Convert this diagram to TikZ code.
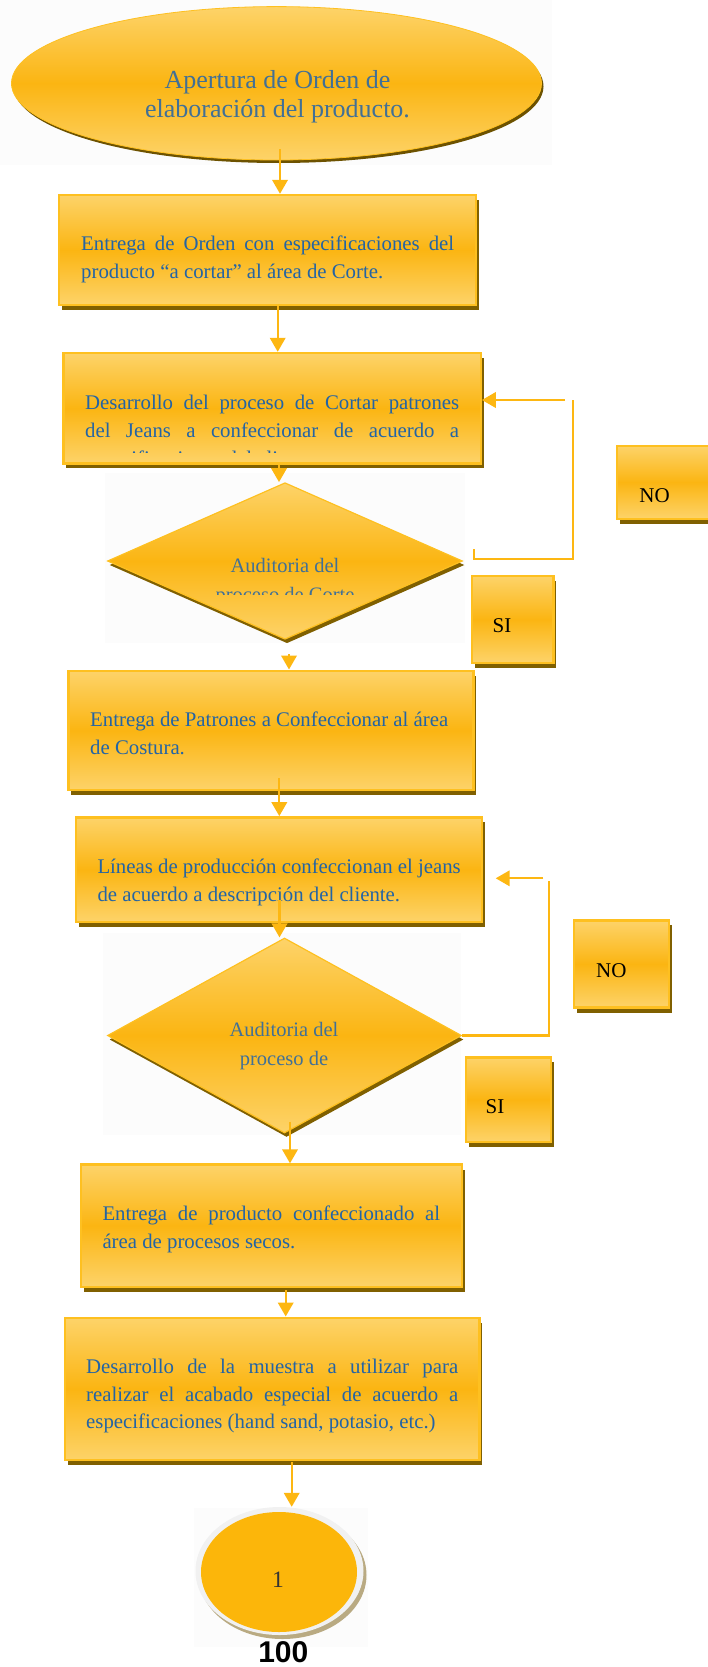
\documentclass[tikz,border=0pt]{standalone}
\usepackage{fontspec}
\setmainfont{Liberation Serif}
\newfontfamily\pagefont{Liberation Sans}
\usetikzlibrary{shapes.geometric,arrows.meta,shadows}

\definecolor{goldtop}{RGB}{253,211,105}
\definecolor{goldmid}{RGB}{251,181,18}
\definecolor{goldedge}{RGB}{254,192,32}
\definecolor{goldshadow}{RGB}{128,96,0}
\definecolor{flowline}{RGB}{253,183,18}
\definecolor{bodyblue}{RGB}{35,100,165}
\definecolor{softblue}{RGB}{65,112,150}
\definecolor{faintbg}{RGB}{252,252,252}
\definecolor{ringgray}{RGB}{241,241,241}
\definecolor{ringshadow}{RGB}{185,170,130}
\definecolor{endgold}{RGB}{252,182,10}

\tikzset{
  stepbox/.style={rectangle, draw=goldedge, line width=2.4pt,
    top color=goldtop, bottom color=goldtop, middle color=goldmid,
    inner sep=0pt,
    drop shadow={shadow xshift=3pt, shadow yshift=-5pt, fill=goldshadow, opacity=1}},
  decision/.style={diamond, draw=goldedge, line width=1.2pt,
    top color=goldtop, bottom color=goldtop, middle color=goldmid,
    inner sep=0pt,
    drop shadow={shadow xshift=2pt, shadow yshift=-4pt, fill=goldshadow, opacity=1}},
  startshape/.style={ellipse, draw=goldedge, line width=0.8pt,
    top color=goldtop, bottom color=goldtop, middle color=goldmid,
    inner sep=0pt,
    drop shadow={shadow xshift=2pt, shadow yshift=-3pt, fill=goldshadow!85!black, opacity=1}},
  bodytext/.style={font=\fontsize{20.8}{27.8}\selectfont, text=bodyblue,
    align=left, inner sep=0pt, anchor=north west},
  headtext/.style={font=\fontsize{26}{29.4}\selectfont, text=softblue,
    align=center, inner sep=0pt, anchor=north},
  dtext/.style={font=\fontsize{20.5}{28.5}\selectfont, text=softblue,
    align=center, inner sep=0pt, anchor=north},
  flagtext/.style={font=\fontsize{21}{24}\selectfont, text=black,
    inner sep=0pt, anchor=base},
  arr/.style={draw=flowline, line width=2.2pt,
    -{Triangle[width=15.5pt,length=14pt]}},
  loopline/.style={draw=flowline, line width=2.2pt}
}

\begin{document}
\begin{tikzpicture}[x=1pt,y=-1pt]
\useasboundingbox (0,0) rectangle (708,1667);

% pale picture frames behind the rounded and diamond shapes
\fill[faintbg] (0,0) rectangle (552,165);
\fill[faintbg] (105,473) rectangle (465,643);
\fill[faintbg] (103,933) rectangle (461,1135);
\fill[faintbg] (194,1508) rectangle (368,1647);

% start
\node[startshape, minimum width=530pt, minimum height=153.4pt] (start) at (276.5,83.3) {};
\node[headtext] (starttxt) at (277.5,67.7) {\strut Apertura de Orden de\\elaboración del producto.};

% process steps
\node[stepbox, minimum width=416.7pt, minimum height=110pt] (box1) at (267.35,250) {};
\node[bodytext] (t1) at (81,230.54)
  {\strut\makebox[373pt][s]{Entrega de Orden con especificaciones del}\\producto “a cortar” al área de Corte.};

\node[stepbox, minimum width=417.4pt, minimum height=110.3pt] (box2) at (272,408.15) {};
\begin{scope}
  \clip (60,350) rectangle (485,452);
  \node[bodytext] (t2) at (85,389.84)
    {\strut\makebox[374pt][s]{Desarrollo del proceso de Cortar patrones}\\\makebox[374pt][s]{del Jeans a confeccionar de acuerdo a}\\especificaciones del cliente.};
\end{scope}

\node[decision, minimum width=355pt, minimum height=156.6pt] (dia1) at (285,561) {};
\begin{scope}
  \clip (100,470) rectangle (470,594);
  \node[dtext] (d1t) at (285,552.35) {\strut Auditoria del\\proceso de Corte};
\end{scope}

\node[stepbox, minimum width=98pt, minimum height=73pt] (no1) at (666,482.2) {};
\node[flagtext] (no1t) at (654.5,502) {NO};
\node[stepbox, minimum width=81.3pt, minimum height=86.7pt] (si1) at (512.65,619.35) {};
\node[flagtext] (si1t) at (502,632.4) {SI};

\node[stepbox, minimum width=405pt, minimum height=119.3pt] (box3) at (270.8,730.35) {};
\node[bodytext] (t3) at (90,707.24)
  {\strut Entrega de Patrones a Confeccionar al área\\de Costura.};

\node[stepbox, minimum width=405.7pt, minimum height=104.4pt] (box4) at (278.85,869.5) {};
\node[bodytext] (t4) at (97.3,853.84)
  {\strut Líneas de producción confeccionan el jeans\\de acuerdo a descripción del cliente.};

\node[decision, minimum width=354pt, minimum height=195pt] (dia2) at (284.5,1035.5) {};
\node[dtext] (d2t) at (284,1016.75) {\strut Auditoria del\\proceso de};

\node[stepbox, minimum width=94.7pt, minimum height=87.1pt] (no2) at (621.35,963.95) {};
\node[flagtext] (no2t) at (611.3,977) {NO};
\node[stepbox, minimum width=85.3pt, minimum height=84.4pt] (si2) at (508.35,1099.5) {};
\node[flagtext] (si2t) at (495,1113.3) {SI};

\node[stepbox, minimum width=381.3pt, minimum height=122.2pt] (box5) at (271.35,1225.6) {};
\node[bodytext] (t5) at (102.3,1200.54)
  {\strut\makebox[337.7pt][s]{Entrega de producto confeccionado al}\\área de procesos secos.};

\node[stepbox, minimum width=414.3pt, minimum height=142.3pt] (box6) at (272.15,1388.85) {};
\node[bodytext] (t6) at (86,1353.54)
  {\strut\makebox[372pt][s]{Desarrollo de la muestra a utilizar para}\\\makebox[372pt][s]{realizar el acabado especial de acuerdo a}\\especificaciones (hand sand, potasio, etc.)};

% off-page connector
\node[ellipse, fill=ringgray, inner sep=0pt, minimum width=168pt, minimum height=128pt,
  drop shadow={shadow xshift=3pt, shadow yshift=-4pt, fill=ringshadow, opacity=1}] (endring) at (279.5,1571) {};
\node[ellipse, fill=endgold, inner sep=0pt, minimum width=156pt, minimum height=120pt] (endc) at (279,1572) {};
\node[font=\fontsize{23.5}{26}\selectfont, text=black!80, inner sep=0pt, anchor=base] (endt) at (278,1587) {1};

\node[font={\pagefont\fontsize{30}{32}\selectfont\bfseries}, inner sep=0pt, anchor=base] (pageno) at (283.3,1662) {100};

% main flow
\coordinate (a1) at (280,149.3);
\draw[arr] (a1) -- (a1 |- box1.north);
\coordinate (a2) at (277.7,0);
\draw[arr] (a2 |- box1.south) -- (a2 |- box2.north);
\coordinate (a3) at (279,0);
\draw[arr] (a3 |- box2.south) -- (a3 |- dia1.north);
\coordinate (a4) at (289,654);
\draw[arr] (a4) -- (a4 |- box3.north);
\coordinate (a5) at (279.3,778.3);
\draw[arr] (a5) -- (a5 |- box4.north);
\coordinate (a6) at (279.5,900);
\draw[arr] (a6) -- (a6 |- dia2.north);
\coordinate (a7) at (290,1121.7);
\draw[arr] (a7) -- (a7 |- box5.north);
\coordinate (a8) at (285.7,1290);
\draw[arr] (a8) -- (a8 |- box6.north);
\coordinate (a9) at (291.7,1462);
\draw[arr] (a9) -- (a9 |- endring.north);

% rework loop after the cutting audit
\coordinate (l1a) at (474,549);
\coordinate (l1b) at (474,559);
\coordinate (l1c) at (573.3,559);
\coordinate (l1d) at (573.3,400);
\draw[loopline] (l1a) -- (l1b) -- (l1c) -- (l1d);
\coordinate (l1e) at (565,400);
\draw[arr] (l1e) -- (l1e -| box2.east);

% rework loop after the sewing audit
\coordinate (l2b) at (549.3,1035.5);
\coordinate (l2c) at (549.3,880.5);
\draw[loopline] (dia2.east) -- (l2b) -- (l2c);
\coordinate (l2e) at (543.3,878.3);
\coordinate (l2t) at (495.7,878.3);
\draw[arr] (l2e) -- (l2t);
\end{tikzpicture}
\end{document}
